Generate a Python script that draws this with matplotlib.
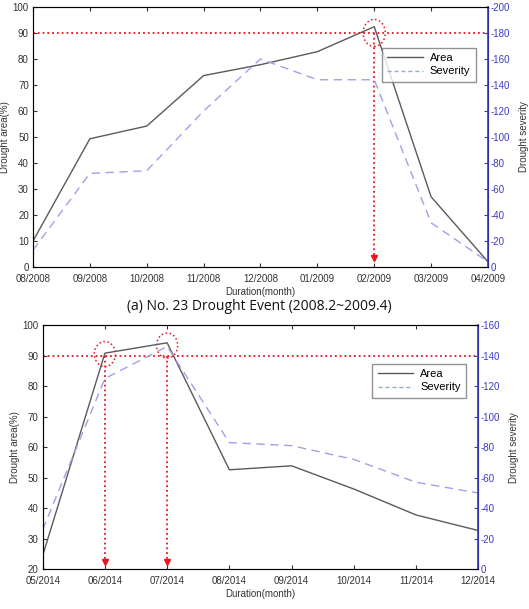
import matplotlib
matplotlib.use('Agg')
import matplotlib.pyplot as plt
from matplotlib.patches import Ellipse

plt.rcParams['font.family'] = ['Liberation Sans', 'DejaVu Sans']
plt.rcParams['axes.unicode_minus'] = False

# Event (a): Aug 2008 - Apr 2009
months_a = ['08/2008', '09/2008', '10/2008', '11/2008', '12/2008',
            '01/2009', '02/2009', '03/2009', '04/2009']
area_a = [10, 49.3, 54.2, 73.6, 77.8, 82.8, 92.4, 27, 2]
severity_a = [-13, -72, -74, -120, -160, -144, -144, -34, -4]
peaks_a = [6]

# Event (b): May 2014 - Dec 2014
months_b = ['05/2014', '06/2014', '07/2014', '08/2014', '09/2014',
            '10/2014', '11/2014', '12/2014']
area_b = [24.5, 90.8, 94.2, 52.6, 53.9, 46.3, 37.8, 32.7]
severity_b = [-26, -125, -146, -83, -81, -72, -57, -50]
peaks_b = [1, 2]

threshold = 90

AREA_C = '#5a5a5a'
SEV_C = '#a0a0ea'
AX2_C = '#3a3ac8'
RED = '#e8141e'


def draw_panel(rect, months, area, severity, peaks, ylim, sevlim, circ, arrow_end):
    ax = fig.add_axes(rect)
    x = list(range(len(months)))
    l1, = ax.plot(x, area, color=AREA_C, lw=1.0, label='Area')
    ax.set_xlim(0, len(months) - 1)
    ax.set_ylim(*ylim)
    ax.set_xticks(x)
    ax.set_xticklabels(months)
    ax.set_yticks(range(ylim[0], ylim[1] + 1, 10))
    ax.tick_params(direction='in', length=3, labelsize=7, colors='#333333',
                   top=True, pad=3)
    ax.tick_params(axis='x', pad=5)
    ax.set_xlabel('Duration(month)', fontsize=7, color='#333333', labelpad=2)
    ax.set_ylabel('Drought area(%)', fontsize=7, color='#333333', labelpad=2)
    for s in ['left', 'top', 'bottom']:
        ax.spines[s].set_color('#555555')

    # threshold line, peak circles and arrows
    ax.axhline(threshold, color=RED, ls=':', lw=1.3)
    for i, p in enumerate(peaks):
        ax.add_patch(Ellipse((p, circ[2][i]), circ[0], circ[1],
                             fill=False, ec=RED, ls=':', lw=1.1))
        ax.plot([p, p], [threshold, arrow_end], color=RED, ls=':', lw=1.3)
        ax.plot(p, arrow_end, marker='v', color=RED, ms=4)

    ax2 = ax.twinx()
    l2, = ax2.plot(x, severity, color=SEV_C, lw=1.0, ls=(0, (6, 4)), label='Severity')
    ax2.set_ylim(0, sevlim)
    ax2.set_yticks(range(0, sevlim - 1, -20))
    ax2.tick_params(direction='in', length=3, labelsize=7, colors=AX2_C, pad=2)
    ax2.spines['right'].set_color(AX2_C)
    ax2.spines['right'].set_linewidth(1.2)
    ax2.set_ylabel('Drought severity', fontsize=7, color='#333333', labelpad=6)

    leg_line_sev = plt.Line2D([], [], color='#8fb0c0', lw=1.0, ls=(0, (3, 2)))
    ax2.legend([l1, leg_line_sev], ['Area', 'Severity'], loc='upper right',
               bbox_to_anchor=(0.985, 0.865), fontsize=8, frameon=True,
               fancybox=False, edgecolor='#777777', borderpad=0.5,
               handlelength=3.2, labelspacing=0.3, handletextpad=0.6)
    return ax


fig = plt.figure(figsize=(5.29, 6.09), dpi=100)

draw_panel([0.0624, 0.5616, 0.860, 0.427], months_a, area_a, severity_a, peaks_a,
           (0, 100), -200, (0.39, 10.4, [90]), 3.5)
fig.text(0.49, 0.496, '(a) No. 23 Drought Event (2008.2~2009.4)', ha='center',
         va='center', fontsize=10, family=['Open Sans', 'DejaVu Sans'], color='#111111')

draw_panel([0.0807, 0.0652, 0.8234, 0.401], months_b, area_b, severity_b, peaks_b,
           (20, 100), -160, (0.34, 8.2, [90.5, 93.3]), 22.5)

fig.savefig('out.png', dpi=100)
